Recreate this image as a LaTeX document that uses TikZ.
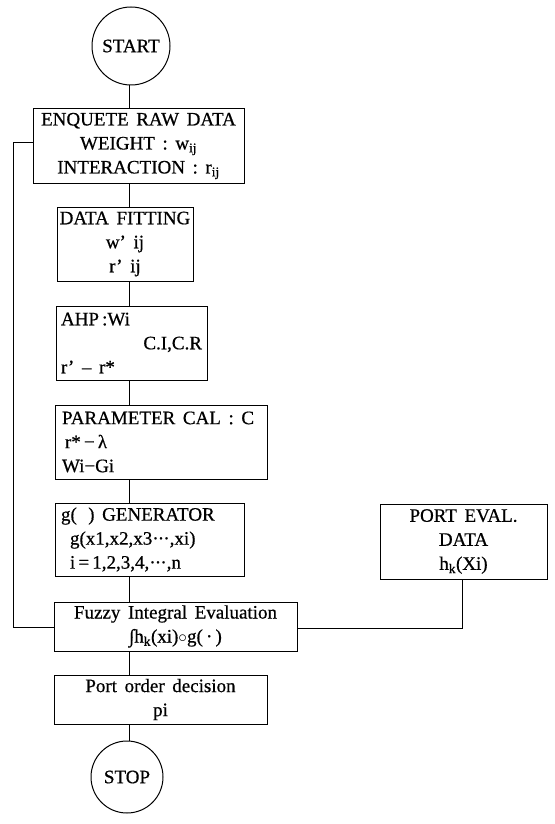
\documentclass[tikz,border=0pt]{standalone}
\usepackage{fontspec}
\setmainfont{Liberation Serif}[FakeBold=0.6]
\newcommand{\widesp}{\spaceskip=0.4em plus 0.1em\relax}
\newcommand{\cdts}{·\kern-0.8pt·\kern-0.8pt·}
\begin{document}
\begin{tikzpicture}[x=1pt,y=-1pt,
  txt/.style={font=\fontsize{19}{24}\selectfont,execute at begin node=\widesp},
  box/.style={txt,draw,line width=1pt,rectangle,inner sep=0pt},
  term/.style={txt,draw,line width=1pt,circle,inner sep=0pt},
  conn/.style={line width=1pt}]
\useasboundingbox (0,0) rectangle (554,824);
\coordinate (spine) at (129,0);
\node[term,minimum size=78pt] (start) at (131,46) {START};
\node[box,minimum width=211pt,minimum height=74pt,align=center] (enq) at (138.5,146)
  {ENQUETE RAW DATA\\WEIGHT : w\textsubscript{ij}\\INTERACTION : r\textsubscript{ij}};
\node[box,minimum width=136pt,minimum height=74pt,align=center] (fit) at (125,244)
  {\mbox{DATA\hspace{0.4em}FITTING}\\w’ ij\\r’ ij};
\node[box,minimum width=151pt,minimum height=74pt,text width=141pt,align=left] (ahp) at (131.5,343)
  {\mbox{AHP\,:Wi}\\\hfill C.I,C.R\\\mbox{r’ -- r*}};
\node[box,minimum width=212pt,minimum height=74pt,text width=198pt,align=left] (par) at (161,442)
  {\mbox{PARAMETER CAL : C}\\\hspace{3pt}r*\,−\,λ\\Wi−Gi};
\node[box,minimum width=189pt,minimum height=73pt,text width=177pt,align=left] (gen) at (149.5,539.5)
  {\mbox{g(\hspace{0.6em}) GENERATOR}\\\mbox{\hspace{9pt}g(x1,x2,x3\cdts,xi)}\\\mbox{\hspace{9pt}i\,=\,1,2,3,4,\cdts,n}};
\node[box,minimum width=167pt,minimum height=75pt,align=center] (port) at (463.5,541.5)
  {PORT EVAL.\\DATA\\h\textsubscript{k}(Xi)};
\node[box,minimum width=243pt,minimum height=49pt,align=center] (fuzzy) at (175.5,626.5)
  {Fuzzy Integral Evaluation\\∫h\textsubscript{k}(xi)$\circ$g(\,·\,)};
\node[box,minimum width=213pt,minimum height=49pt,align=center] (order) at (160.5,699.5)
  {Port order decision\\pi};
\node[term,minimum size=72pt] (stop) at (127,777) {STOP};
% spine connectors
\draw[conn] (spine |- start.south) -- (spine |- enq.north);
\draw[conn] (spine |- enq.south) -- (spine |- fit.north);
\draw[conn] (spine |- fit.south) -- (spine |- ahp.north);
\draw[conn] (spine |- ahp.south) -- (spine |- par.north);
\draw[conn] (spine |- par.south) -- (spine |- gen.north);
\draw[conn] (spine |- gen.south) -- (spine |- fuzzy.north);
\draw[conn] (spine |- order.north) -- (spine |- fuzzy.south);
\draw[conn] (spine |- order.south) -- (spine |- stop.north);
% feedback loop
\coordinate (fbtop) at (13,142);
\coordinate (fbbot) at (13,627);
\draw[conn] (enq.west |- fbtop) -- (fbtop) -- (fbbot) -- (fuzzy.west |- fbbot);
% port eval link
\coordinate (pe) at (462,628);
\draw[conn] (pe |- port.south) -- (pe) -- (fuzzy.east |- pe);
\end{tikzpicture}
\end{document}
